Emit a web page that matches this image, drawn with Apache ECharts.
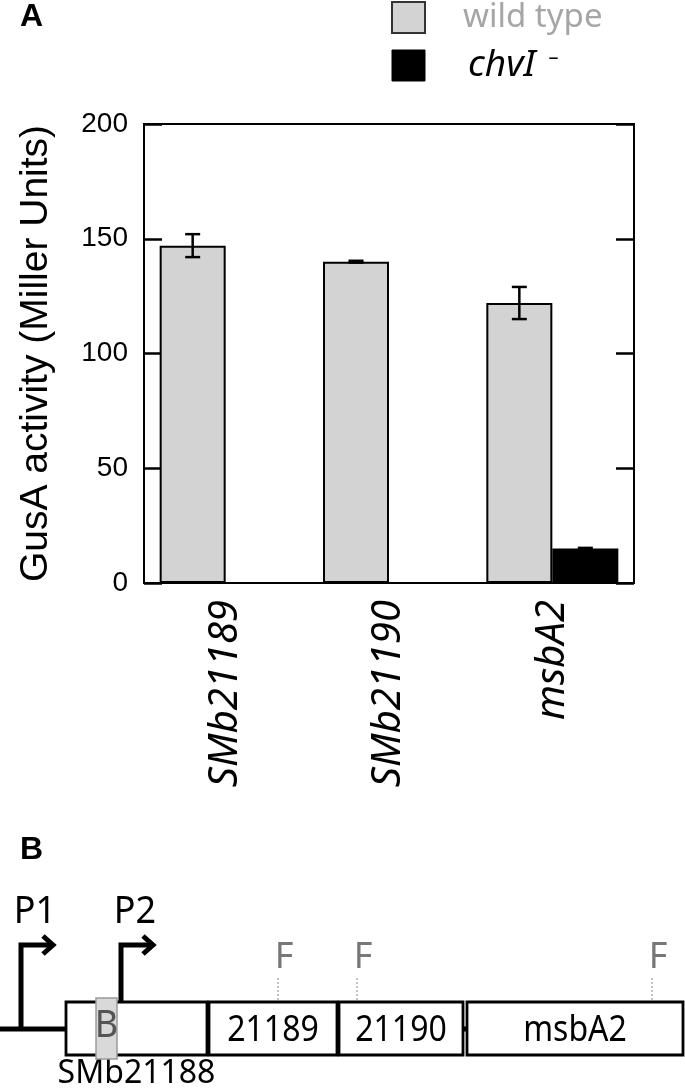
<!DOCTYPE html>
<html><head><meta charset="utf-8">
<script src="https://cdn.jsdelivr.net/npm/echarts@6/dist/echarts.min.js"></script>
<style>html,body{margin:0;padding:0;background:#fff}#c{width:685px;height:1088px}</style>
</head><body><div id="c"></div>
<script>
// ---------- Panel A data ----------
const categories = ['SMb21189', 'SMb21190', 'msbA2'];
const wildType = [147, 140, 122];
const wildTypeErr = [5, 0.4, 7];
const chvI = [null, null, 15];
const chvIErr = [null, null, 0.3];
const yMin = 0, yMax = 200, yInterval = 50;

// ---------- Panel B data (map positions, diagram units) ----------
const geneNames = ['SMb21188', '21189', '21190', 'msbA2'];
const geneStart = [66, 209, 339, 467];
const geneEnd = [207, 337, 463, 683];
const geneLabelInside = [false, true, true, true];
const lineSpan = [0, 683];
const promoterNames = ['P1', 'P2'];
const promoterPos = [21, 121];
const fSitePos = [278, 357, 652];
const fSiteLabel = ['F', 'F', 'F'];
const bSite = [96, 117];
const bSiteLabel = 'B';

// ---------- layout constants ----------
const BAR_W = 66;
const TRACK = 149;          // y of genomic line in panel-B grid units
const BOX_TOP = -27, BOX_H = 53;
const NOTO = '"Noto Sans", sans-serif';
const HELV = '"Liberation Sans", Arial, sans-serif';

const chart = echarts.init(document.getElementById('c'), null, {renderer: 'canvas'});

function errorSeries(vals, errs, offset) {
  return {
    type: 'custom', xAxisIndex: 0, yAxisIndex: 0, z: 5,
    data: vals.map((v, i) => v == null ? null : [i, v - errs[i], v + errs[i]]).filter(d => d),
    renderItem(params, api) {
      const lo = api.coord([api.value(0), api.value(1)]);
      const hi = api.coord([api.value(0), api.value(2)]);
      const x = lo[0] + offset, c = 7.5;
      const st = {stroke: '#000', lineWidth: 2.5};
      return {type: 'group', children: [
        {type: 'line', shape: {x1: x, y1: lo[1], x2: x, y2: hi[1]}, style: st},
        {type: 'line', shape: {x1: x - c, y1: lo[1], x2: x + c, y2: lo[1]}, style: st},
        {type: 'line', shape: {x1: x - c, y1: hi[1], x2: x + c, y2: hi[1]}, style: st}
      ]};
    }
  };
}

function insideGene(p) {
  for (let i = 0; i < geneStart.length; i++) if (p >= geneStart[i] && p <= geneEnd[i]) return true;
  return false;
}

function label(text, x, y, size, fill, sy) {
  return {type: 'text', x: x, y: y, scaleY: sy || 1,
          style: {text: text, x: 0, y: 0, fill: fill, fontFamily: NOTO, fontSize: size,
                  align: 'center', verticalAlign: 'middle'}};
}

const option = {
  animation: false,
  backgroundColor: '#fff',
  title: [
    {text: 'A', left: 20, top: 1, padding: 0, textStyle: {fontFamily: HELV, fontWeight: 'bold', fontSize: 32, color: '#000'}},
    {text: 'B', left: 20, top: 834, padding: 0, textStyle: {fontFamily: HELV, fontWeight: 'bold', fontSize: 32, color: '#000'}}
  ],
  legend: {
    orient: 'vertical', left: 391, top: 1, padding: 0, itemWidth: 33, itemHeight: 31, itemGap: 13,
    icon: 'rect', selectedMode: false,
    formatter: n => n === 'chvI' ? '{i|chvI}{s|–}' : n,
    textStyle: {fontFamily: NOTO, fontSize: 33, color: '#a6a6a6', padding: [0, 0, 0, 33],
      rich: {i: {fontFamily: NOTO, fontStyle: 'italic', fontSize: 37, color: '#000'},
             s: {fontFamily: NOTO, fontSize: 20, color: '#000', padding: [0, 0, 14, 13]}}},
    data: [
      {name: 'wild type', itemStyle: {color: '#d3d3d3', borderColor: '#333', borderWidth: 2}},
      {name: 'chvI', itemStyle: {color: '#000', borderColor: '#000', borderWidth: 1}, textStyle: {padding: [0, 0, 0, 38]}}
    ]
  },
  grid: [
    {left: 144, right: 51, top: 124, bottom: 505, show: true, borderColor: '#000', borderWidth: 2},
    {left: 0, right: 0, top: 880, bottom: 0}
  ],
  xAxis: [
    {type: 'category', gridIndex: 0, data: categories,
     axisLine: {show: true, lineStyle: {color: '#000', width: 2}}, axisTick: {show: false},
     axisLabel: {rotate: 90, margin: 17, fontFamily: NOTO, fontStyle: 'italic', fontSize: 40, color: '#000',
                 padding: [0, 0, 12, 0]}},
    {type: 'value', gridIndex: 1, min: 0, max: 685, show: false}
  ],
  yAxis: [
    {type: 'value', gridIndex: 0, min: yMin, max: yMax, interval: yInterval,
     name: 'GusA activity (Miller Units)', nameLocation: 'middle', nameGap: 88,
     nameTextStyle: {fontFamily: HELV, fontSize: 39, color: '#000'},
     axisLine: {show: true, lineStyle: {color: '#000', width: 2}},
     axisTick: {show: true, inside: true, length: 18, lineStyle: {color: '#000', width: 2.5}},
     axisLabel: {margin: 16, fontFamily: HELV, fontSize: 28, color: '#000'},
     splitLine: {show: false}},
    {type: 'value', gridIndex: 0, position: 'right', min: yMin, max: yMax, interval: yInterval,
     axisLine: {show: true, lineStyle: {color: '#000', width: 2}},
     axisTick: {show: true, inside: true, length: 18, lineStyle: {color: '#000', width: 2.5}},
     axisLabel: {show: false}, splitLine: {show: false}},
    {type: 'value', gridIndex: 1, min: 0, max: 208, inverse: true, show: false}
  ],
  series: [
    {type: 'bar', name: 'wild type', xAxisIndex: 0, yAxisIndex: 0, data: wildType, barWidth: BAR_W, barGap: '0%',
     itemStyle: {color: '#d3d3d3', borderColor: '#000', borderWidth: 2}},
    {type: 'bar', name: 'chvI', xAxisIndex: 0, yAxisIndex: 0, data: chvI, barWidth: BAR_W, barGap: '0%',
     itemStyle: {color: '#000', borderColor: '#000', borderWidth: 2}},
    errorSeries(wildType, wildTypeErr, -BAR_W / 2),
    errorSeries(chvI, chvIErr, BAR_W / 2),

    // ---- Panel B: genomic line ----
    {type: 'custom', xAxisIndex: 1, yAxisIndex: 2, z: 1, data: [lineSpan],
     renderItem(params, api) {
       const a = api.coord([api.value(0), TRACK]), b = api.coord([api.value(1), TRACK]);
       return {type: 'line', shape: {x1: a[0], y1: a[1], x2: b[0], y2: b[1]}, style: {stroke: '#000', lineWidth: 5}};
     }},
    // ---- genes ----
    {type: 'custom', xAxisIndex: 1, yAxisIndex: 2, z: 2,
     data: geneNames.map((n, i) => [geneStart[i], geneEnd[i], i]),
     renderItem(params, api) {
       const i = api.value(2);
       const a = api.coord([api.value(0), TRACK]), b = api.coord([api.value(1), TRACK]);
       const cx = (a[0] + b[0]) / 2, y = a[1];
       const kids = [{type: 'rect', shape: {x: a[0], y: y + BOX_TOP, width: b[0] - a[0], height: BOX_H},
                      style: {fill: '#fff', stroke: '#000', lineWidth: 2.8}}];
       if (geneLabelInside[i]) kids.push(label(geneNames[i], cx, y + 1.5, 32, '#000', 1.12));
       else kids.push(label(geneNames[i], cx, y + 45, 32, '#000', 1));
       return {type: 'group', children: kids};
     }},
    // ---- B site ----
    {type: 'custom', xAxisIndex: 1, yAxisIndex: 2, z: 3, data: [bSite],
     renderItem(params, api) {
       const a = api.coord([api.value(0), TRACK]), b = api.coord([api.value(1), TRACK]);
       return {type: 'group', children: [
         {type: 'rect', shape: {x: a[0], y: a[1] - 31, width: b[0] - a[0], height: 61},
          style: {fill: '#d9d9d9', stroke: '#9a9a9a', lineWidth: 1.5}},
         label(bSiteLabel, (a[0] + b[0]) / 2, a[1] - 3, 36, '#555', 1.06)
       ]};
     }},
    // ---- promoters ----
    {type: 'custom', xAxisIndex: 1, yAxisIndex: 2, z: 4,
     data: promoterPos.map((p, i) => [p, i]),
     renderItem(params, api) {
       const p = api.value(0), i = api.value(1);
       const a = api.coord([p, TRACK]);
       const x = a[0], y0 = insideGene(p) ? a[1] + BOX_TOP : a[1], yt = a[1] - 84;
       const st = {stroke: '#000', fill: null, lineWidth: 5, lineJoin: 'miter'};
       return {type: 'group', children: [
         {type: 'polyline', shape: {points: [[x, y0], [x, yt], [x + 31, yt]]}, style: st},
         {type: 'polyline', shape: {points: [[x + 22, yt - 9], [x + 32, yt], [x + 22, yt + 9]]}, style: st},
         label(promoterNames[i], x + 14, a[1] - 117, 36, '#000', 1.08)
       ]};
     }},
    // ---- F sites ----
    {type: 'custom', xAxisIndex: 1, yAxisIndex: 2, z: 4,
     data: fSitePos.map((p, i) => [p, i]),
     renderItem(params, api) {
       const a = api.coord([api.value(0), TRACK]);
       return {type: 'group', children: [
         {type: 'line', shape: {x1: a[0], y1: a[1] - 51, x2: a[0], y2: a[1] + BOX_TOP},
          style: {stroke: '#888', lineWidth: 1, lineDash: [2, 2]}},
         label(fSiteLabel[api.value(1)], a[0] + 6, a[1] - 71, 36, '#777', 1.02)
       ]};
     }}
  ]
};
chart.setOption(option);
</script></body></html>
